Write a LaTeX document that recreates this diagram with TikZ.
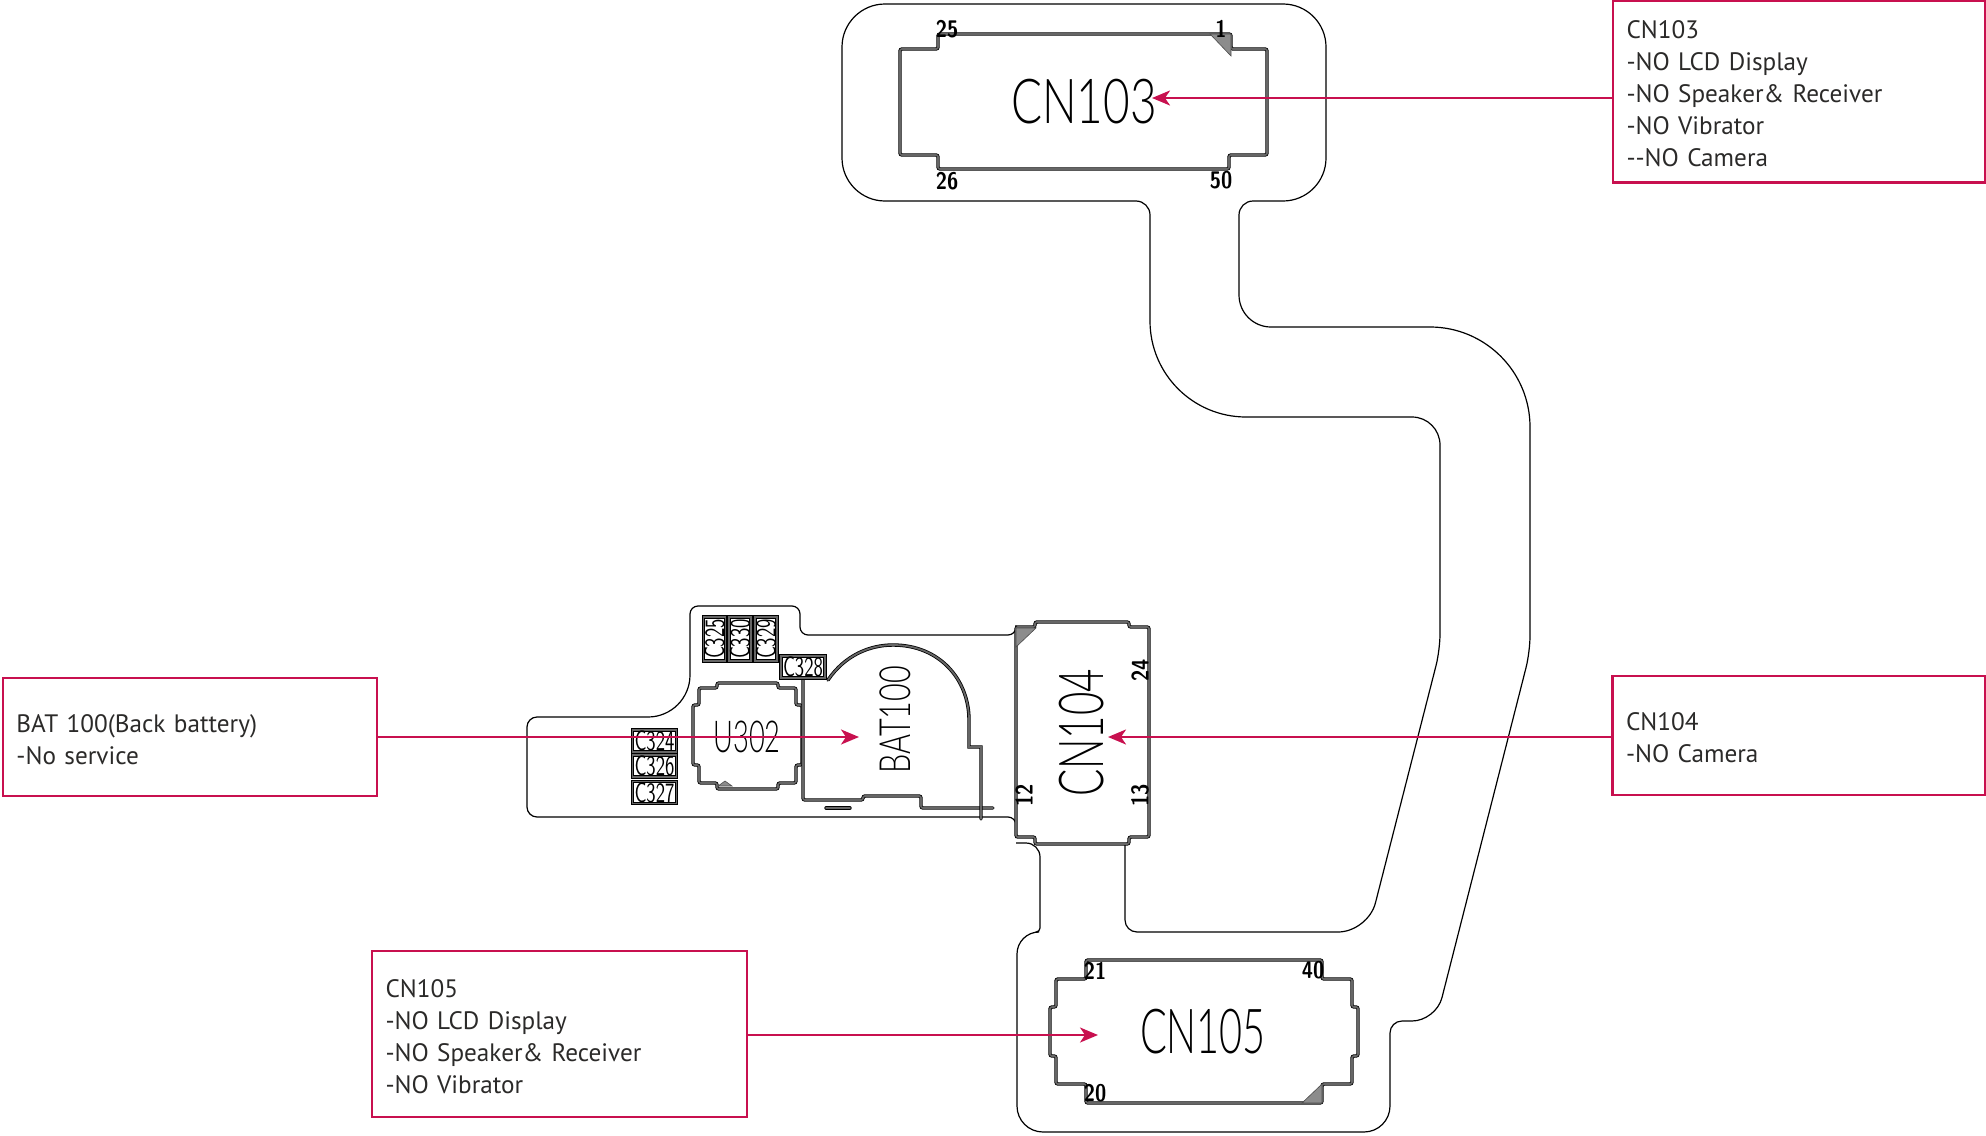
\documentclass[tikz,border=0pt]{standalone}
\usepackage{fontspec}
\setmainfont[WordSpace=0.8]{PT Sans}
\newfontfamily\cadfont{Lato Light}
\usetikzlibrary{arrows.meta}
\definecolor{calloutred}{HTML}{C8104F}
\definecolor{calloutink}{HTML}{2B2A29}
\newcommand{\cadtext}[2]{\scalebox{#1}[1]{\sffamily #2}}
\newcommand{\cadthin}[2]{\scalebox{#1}[1]{\cadfont #2}}
\tikzset{
  board/.style={line width=0.6pt, black},
  conn/.style={line width=0.4pt, draw=black, double=black!60, double distance=0.9pt, rounded corners=1pt},
  pinone/.style={fill=black!45, draw=black!70, line width=0.3pt},
  bigname/.style={inner sep=0pt, black, font=\fontsize{31}{31}\selectfont},
  pinname/.style={inner sep=0pt, black, font=\fontsize{12}{12}\selectfont\bfseries},
  capbox/.style={conn, rectangle, rounded corners=0pt, inner sep=0pt, text=black, minimum width=22pt, minimum height=11pt, font=\fontsize{14}{14}\selectfont},
  callout/.style={draw=calloutred, line width=1.2pt, rectangle, text=calloutink, align=left, inner sep=0pt, font=\fontsize{12.6}{16}\selectfont, execute at begin node={\rule{0pt}{11.6pt}}},
  leader/.style={draw=calloutred, line width=1.2pt, -{Stealth[length=9pt, width=7.5pt, inset=2.5pt]}}
}
\begin{document}
\begin{tikzpicture}[x=0.5pt, y=-0.5pt]
\useasboundingbox (0,0) rectangle (1986,1135);
% flexible board outline
\draw[board] (1125,844) [rounded corners=6pt] -- (1125,932) [rounded corners=15pt] -- (1368,932) [rounded corners=8pt] -- (1440,650) [rounded corners=14pt] -- (1440,417) [rounded corners=48pt] -- (1150,417) [rounded corners=7pt] -- (1150,201) [rounded corners=21.5pt] -- (842,201) -- (842,4) -- (1326,4) -- (1326,201) [rounded corners=7pt] -- (1239,201) [rounded corners=16pt] -- (1239,327) [rounded corners=50pt] -- (1530,327) [rounded corners=8pt] -- (1530,652) [rounded corners=12pt] -- (1436,1021) [rounded corners=6pt] -- (1390,1021) [rounded corners=13pt] -- (1390,1132) -- (1017,1132) [rounded corners=11pt] -- (1017,932) [rounded corners=2pt] -- (1040,932) [rounded corners=7pt] -- (1040,843) -- (1016,843);
\draw[board] (1016,838) [rounded corners=4pt] -- (1016,817) [rounded corners=5pt] -- (527,817) -- (527,717) [rounded corners=21pt] -- (690,717) [rounded corners=4pt] -- (690,606) -- (800,606) -- (800,635) -- (1016,635) -- (1016,625);
% CN103
\draw[conn] (900,49) -- (938,49) -- (938,34) -- (1231,34) -- (1231,49) -- (1267,49) -- (1267,155) -- (1229,155) -- (1229,169) -- (938,169) -- (938,155) -- (900,155) -- cycle;
\filldraw[pinone] (1210,34) -- (1231,34) -- (1231,56) -- cycle;
\node[bigname] (CN_103) at (1084,102) {\cadthin{0.74}{CN103}};
\node[pinname] (CN_103_25) at (947,29) {\cadtext{0.85}{25}};
\node[pinname] (CN_103_1) at (1221,29) {\cadtext{0.85}{1}};
\node[pinname] (CN_103_26) at (947,181) {\cadtext{0.85}{26}};
\node[pinname] (CN_103_50) at (1221,180) {\cadtext{0.85}{50}};
% CN104
\draw[conn] (1016,627) -- (1035,627) -- (1035,622) -- (1129,622) -- (1129,627) -- (1149,627) -- (1149,837) -- (1129,837) -- (1129,844) -- (1035,844) -- (1035,837) -- (1016,837) -- cycle;
\filldraw[pinone] (1016,628) -- (1036,628) -- (1016,647) -- cycle;
\node[bigname, rotate=90] (CN_104) at (1082,733) {\cadthin{0.65}{CN104}};
\node[pinname, rotate=90] (CN_104_24) at (1140,670) {\cadtext{0.85}{24}};
\node[pinname, rotate=90] (CN_104_12) at (1024,795) {\cadtext{0.85}{12}};
\node[pinname, rotate=90] (CN_104_13) at (1140,795) {\cadtext{0.85}{13}};
% CN105
\draw[conn] (1086,960) -- (1322,960) -- (1322,979) -- (1352,979) -- (1352,1007) -- (1358,1007) -- (1358,1056) -- (1352,1056) -- (1352,1084) -- (1322,1084) -- (1322,1103) -- (1086,1103) -- (1086,1084) -- (1056,1084) -- (1056,1056) -- (1050,1056) -- (1050,1007) -- (1056,1007) -- (1056,979) -- (1086,979) -- cycle;
\filldraw[pinone] (1322,1084) -- (1322,1103) -- (1302,1103) -- cycle;
\node[bigname] (CN_105) at (1203,1032) {\cadthin{0.64}{CN105}};
\node[pinname] (CN_105_21) at (1095,971) {\cadtext{0.85}{21}};
\node[pinname] (CN_105_40) at (1313,970) {\cadtext{0.85}{40}};
\node[pinname] (CN_105_20) at (1095,1093) {\cadtext{0.85}{20}};
% U302
\draw[conn] (717,683) -- (778,683) -- (778,688) -- (796,688) -- (796,705) -- (802,705) -- (802,765) -- (796,765) -- (796,783) -- (778,783) -- (778,789) -- (717,789) -- (717,783) -- (699,783) -- (699,765) -- (693,765) -- (693,705) -- (699,705) -- (699,688) -- (717,688) -- cycle;
\filldraw[pinone] (718,786) -- (725,781) -- (732,786) -- cycle;
\node[bigname, font=\fontsize{22}{22}\selectfont] (U_302) at (747,737) {\cadthin{0.62}{U302}};
% BAT100
\draw[conn, line cap=round] (803,680) -- (803,800) -- (863,800) -- (863,796) -- (921,796) -- (921,808) -- (993,808);
\draw[conn, line cap=round, rounded corners=0pt] (981,819) -- (981,747) -- (969,747) -- (969,720) .. controls (969,680) and (940,645) .. (893,645) .. controls (870,645) and (845,655) .. (828,680);
\draw[conn, line cap=round] (826,808) -- (850,808);
\node[bigname, font=\fontsize{21.5}{21.5}\selectfont, rotate=90] (BAT_100) at (895,720) {\cadthin{0.71}{BAT100}};
% small capacitors
\node[capbox, rotate=90] (C_325) at (714.5,639) {\cadtext{0.68}{C325}};
\node[capbox, rotate=90] (C_330) at (740,639) {\cadtext{0.68}{C330}};
\node[capbox, rotate=90] (C_329) at (766,639) {\cadtext{0.68}{C329}};
\node[capbox] (C_328) at (803,667) {\cadtext{0.68}{C328}};
\node[capbox] (C_324) at (654.5,741) {\cadtext{0.68}{C324}};
\node[capbox] (C_326) at (654.5,766) {\cadtext{0.68}{C326}};
\node[capbox] (C_327) at (654.5,792.5) {\cadtext{0.68}{C327}};
% callouts
\node[callout, minimum height=91pt, minimum width=186pt, text width=172.5pt] (box_CN_103) at (1799,91.5) {CN103\\-NO LCD Display\\-NO Speaker\& Receiver\\-NO Vibrator\\-{}-NO Camera};
\node[callout, minimum height=59.5pt, minimum width=186.5pt, text width=173pt] (box_CN_104) at (1799,735.5) {CN104\\-NO Camera};
\node[callout, minimum height=59pt, minimum width=187pt, text width=173.5pt] (box_BAT_100) at (190,737) {BAT 100(Back battery)\\-No service};
\node[callout, minimum height=83pt, minimum width=187.5pt, text width=174pt] (box_CN_105) at (559.5,1034) {CN105\\-NO LCD Display\\-NO Speaker\& Receiver\\-NO Vibrator};
\coordinate (tip_CN_103) at (1152,98);
\coordinate (tip_CN_104) at (1108,737);
\coordinate (tip_BAT_100) at (859,737);
\coordinate (tip_CN_105) at (1098,1035);
\draw[leader] (box_CN_103.west |- tip_CN_103) -- (tip_CN_103);
\draw[leader] (box_CN_104.west |- tip_CN_104) -- (tip_CN_104);
\draw[leader] (box_BAT_100.east |- tip_BAT_100) -- (tip_BAT_100);
\draw[leader] (box_CN_105.east |- tip_CN_105) -- (tip_CN_105);
\end{tikzpicture}
\end{document}
